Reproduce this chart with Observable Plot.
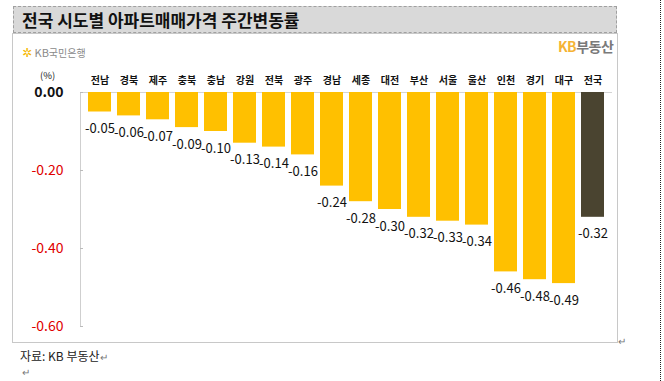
<!DOCTYPE html>
<html><head><meta charset="utf-8">
<script src="https://cdn.jsdelivr.net/npm/d3@7"></script>
<script src="https://cdn.jsdelivr.net/npm/@observablehq/plot@0.6"></script>
<style>
body{margin:0;background:#fff;font-family:"Noto Sans CJK KR","Noto Sans",sans-serif;}
#wrap{position:relative;width:664px;height:381px;overflow:hidden;}
#wrap svg{position:absolute;left:0;top:0;}
.abs{position:absolute;white-space:nowrap;}
#titlebar{left:13px;top:6px;width:604px;height:27px;background:#d9d9d9;border:1px dashed #a0a0a0;box-sizing:border-box;}
#title{left:22px;top:6px;font-size:17px;font-weight:bold;color:#111;line-height:27px;}
#frame{left:12px;top:33px;width:606px;height:310px;border:1px solid #c8c8c8;box-sizing:border-box;}
#kbbank{left:22px;top:44px;font-size:11px;color:#8a8a8a;line-height:16px;}
#kbbank .star{color:#f5b800;font-family:"DejaVu Sans";font-size:12px;}
#kbland{left:558px;top:36px;font-size:14px;font-weight:bold;line-height:20px;letter-spacing:-0.5px;}
#unit{left:40px;top:68px;font-size:9.5px;color:#222;}
#caption{left:20px;top:347px;font-size:12px;color:#222;}
.ret{font-size:10px;color:#777;}
#dots{left:660px;top:0;width:0;height:381px;border-left:1px dotted #222;}
</style></head>
<body><div id="wrap"></div>
<script>
const regions = ["전남","경북","제주","충북","충남","강원","전북","광주","경남","세종","대전","부산","서울","울산","인천","경기","대구","전국"];
const values = [-0.05,-0.06,-0.07,-0.09,-0.10,-0.13,-0.14,-0.16,-0.24,-0.28,-0.30,-0.32,-0.33,-0.34,-0.46,-0.48,-0.49,-0.32];
const yTicksBlack = [0];
const yTicksRed = [-0.2,-0.4,-0.6];
const titleText = "전국 시도별 아파트매매가격 주간변동률";
const captionText = "자료: KB 부동산";

const data = regions.map((r,i)=>({region:r, value:values[i], kind: r==="전국" ? "national" : "region"}));
const fmt = d => d.toFixed(2);

const chart = Plot.plot({
  width:664, height:381,
  marginTop:92, marginBottom:55, marginLeft:80, marginRight:52,
  style:{fontFamily:'"Noto Sans CJK KR","Noto Sans",sans-serif', background:"transparent"},
  x:{type:"band", domain:regions, paddingInner:0.22, paddingOuter:0.11, axis:null, label:null},
  y:{domain:[-0.6,0], axis:null, label:null},
  color:{domain:["region","national"], range:["#FFC000","#4A4430"]},
  marks:[
    Plot.frame({anchor:"left", stroke:"#cfcfcf"}),
    Plot.ruleY([0], {stroke:"#d4d4d4"}),
    Plot.axisY({ticks:yTicksRed.concat(yTicksBlack), tickSize:3, dx:3, tickFormat:()=>"", stroke:"#bbb", label:null}),
    Plot.axisY({ticks:yTicksBlack, tickSize:0, tickPadding:17, tickFormat:fmt, fontSize:14, fontWeight:"bold", fill:"#111", label:null}),
    Plot.axisY({ticks:yTicksRed, tickSize:0, tickPadding:17, tickFormat:fmt, fontSize:14, fill:"#e00000", label:null}),
    Plot.axisX({anchor:"top", tickSize:0, tickPadding:9, fontSize:10, fontWeight:"bold", fill:"#111", label:null}),
    Plot.barY(data, {x:"region", y:"value", fill:"kind"}),
    Plot.text(data, {x:"region", y:"value", text:d=>fmt(d.value), dy:17, fontSize:13, fill:"#111"})
  ]
});

const wrap = document.getElementById("wrap");
wrap.innerHTML = `
<div class="abs" id="titlebar"></div>
<div class="abs" id="title">${titleText}</div>
<div class="abs" id="frame"></div>
<div class="abs" id="kbbank"><span class="star">✲</span> KB<span style="font-size:10px">국민은행</span></div>
<div class="abs" id="kbland"><span style="color:#f5b335">KB</span><span style="color:#7a7a7a">부동산</span></div>
<div class="abs" id="unit">(%)</div>
<div class="abs ret" style="left:618px;top:333px;">↵</div>
<div class="abs" id="caption">${captionText}<span class="ret">↵</span></div>
<div class="abs ret" style="left:22px;top:364px;">↵</div>
<div class="abs" id="dots"></div>`;
wrap.appendChild(chart);
</script>
</body></html>
